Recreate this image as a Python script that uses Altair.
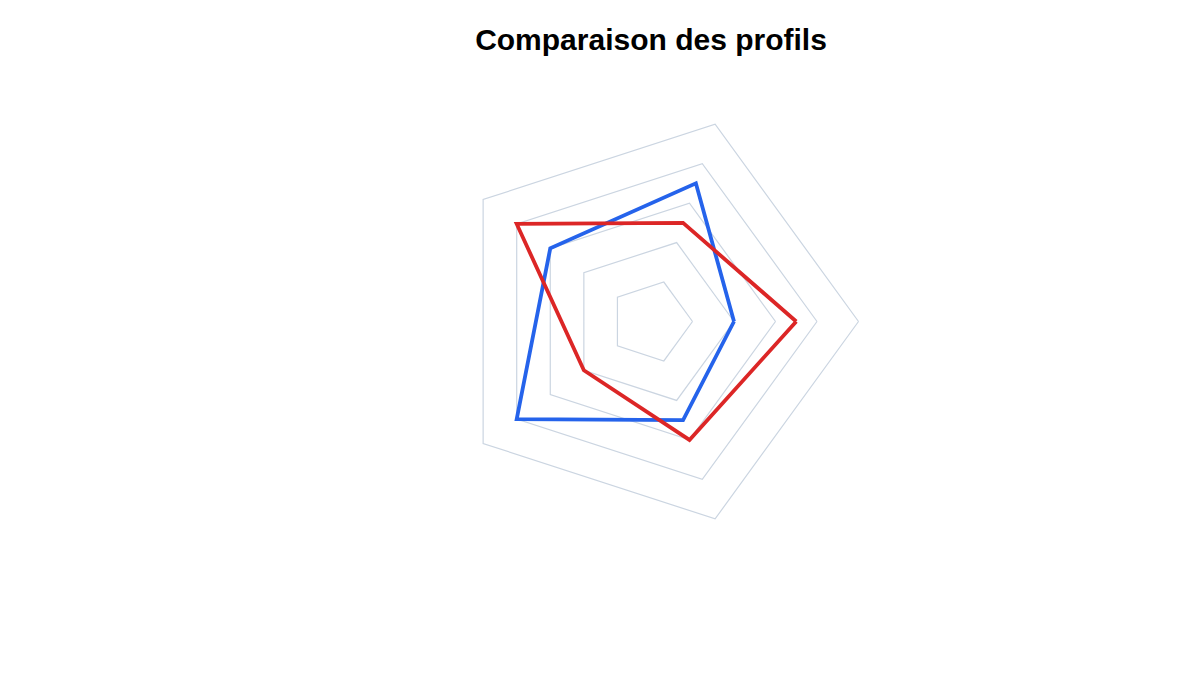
import math
import altair as alt
import pandas as pd

# ---- data ----
categories = ["Critère 1", "Critère 2", "Critère 3", "Critère 4", "Critère 5"]
profil_a = [40, 70, 60, 80, 50]   # blue
profil_b = [70, 50, 80, 40, 60]   # red
grid_levels = [20, 40, 60, 80, 100]
series_names = ["Profil A", "Profil B"]
series_colors = ["#2563eb", "#dc2626"]

n = len(categories)

rows = []
for name, vals in zip(series_names, [profil_a, profil_b]):
    for i in range(n + 1):
        k = i % n
        rows.append({"serie": name, "axe": categories[k], "idx": k, "ord": i, "valeur": vals[k]})
series_df = pd.DataFrame(rows)

grid_rows = []
for lv in grid_levels:
    for i in range(n + 1):
        grid_rows.append({"niveau": lv, "idx": i % n, "ord": i})
grid_df = pd.DataFrame(grid_rows)

step = 2 * math.pi / n
xs = alt.Scale(domain=[-100, 100], nice=False, zero=False)
ys = alt.Scale(domain=[-100, 100], nice=False, zero=False)

grid = (
    alt.Chart(grid_df)
    .transform_calculate(
        gx=f"datum.niveau * cos(datum.idx * {step})",
        gy=f"datum.niveau * sin(datum.idx * {step})",
    )
    .mark_line(color="#cbd5e1", strokeWidth=1.2)
    .encode(
        x=alt.X("gx:Q", scale=xs, axis=None),
        y=alt.Y("gy:Q", scale=ys, axis=None),
        detail="niveau:N",
        order="ord:Q",
    )
)

lines = (
    alt.Chart(series_df)
    .transform_calculate(
        px=f"datum.valeur * cos(datum.idx * {step})",
        py=f"datum.valeur * sin(datum.idx * {step})",
    )
    .mark_line(strokeWidth=3.8, strokeJoin="miter")
    .encode(
        x=alt.X("px:Q", scale=xs, axis=None),
        y=alt.Y("py:Q", scale=ys, axis=None),
        color=alt.Color("serie:N", scale=alt.Scale(domain=series_names, range=series_colors), legend=None),
        order="ord:Q",
    )
)

chart = (
    alt.layer(grid, lines)
    .properties(
        width=415,
        height=415,
        title=alt.TitleParams(
            "Comparaison des profils",
            font="Liberation Sans",
            fontSize=30,
            fontWeight="bold",
            color="#000000",
            anchor="middle",
            offset=58,
        ),
        autosize=alt.AutoSizeParams(type="none"),
        padding={"left": 435.5, "top": 106, "right": 0, "bottom": 0},
    )
    .configure_view(stroke=None)
)

chart.save("out.html", embed_options={"renderer": "svg", "actions": False})
